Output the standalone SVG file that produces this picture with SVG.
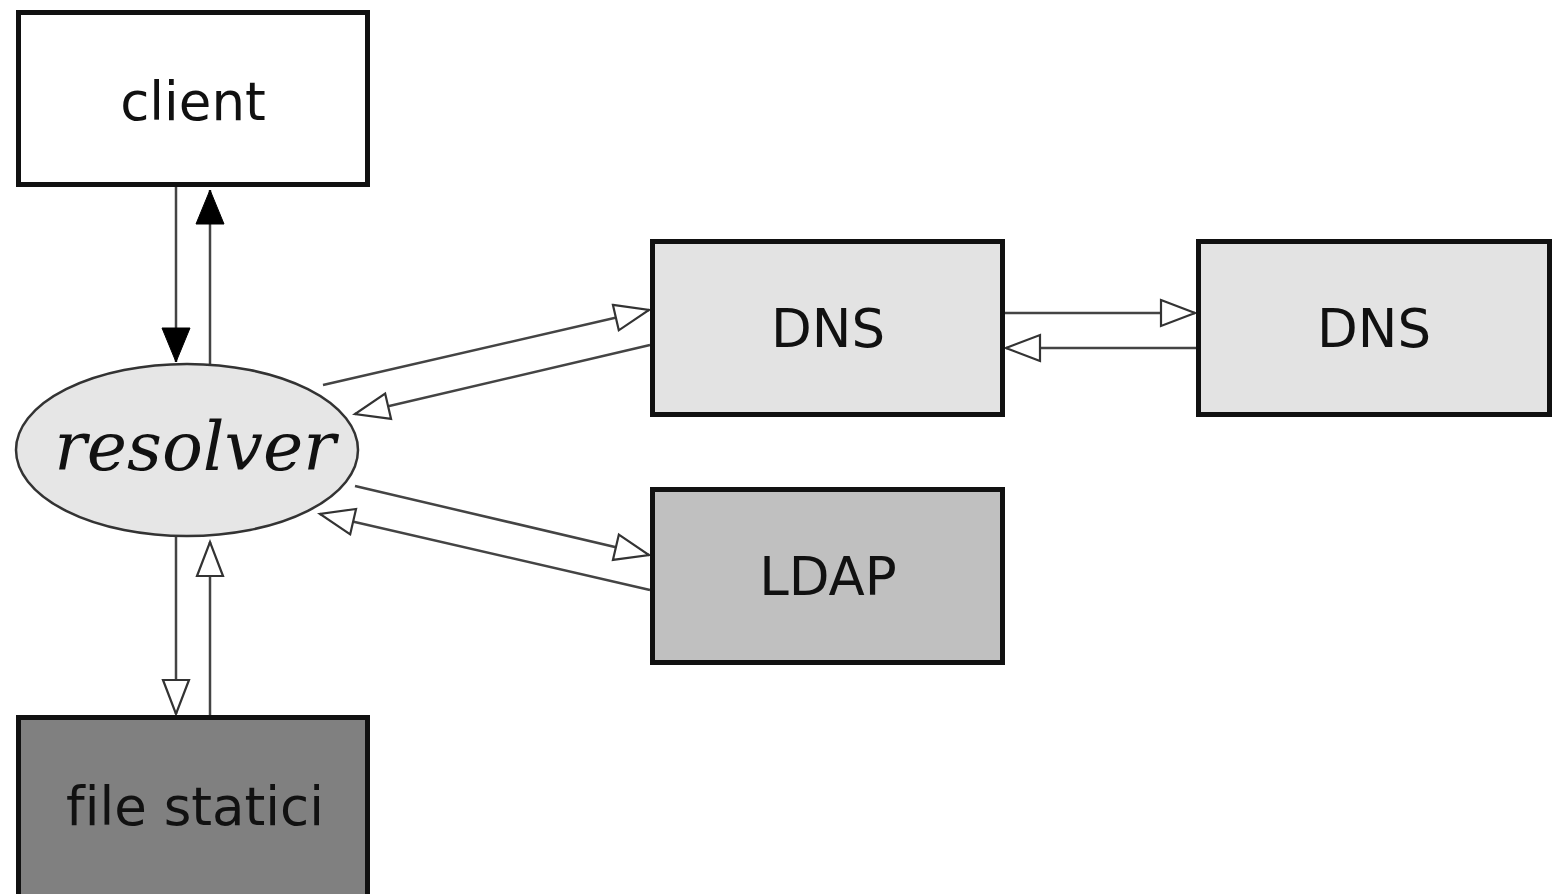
<svg xmlns="http://www.w3.org/2000/svg" width="1553" height="894" viewBox="0 0 1553 894">
<style>
.box{stroke:#111;stroke-width:5}
.lbl{font-family:"DejaVu Sans",sans-serif;font-size:53px;fill:#111;text-anchor:middle;font-variant-ligatures:none}
.edge{stroke:#444;stroke-width:2.5;fill:none}
</style>
<defs>
<marker id="solid" markerUnits="userSpaceOnUse" markerWidth="40" markerHeight="32" refX="36" refY="15" orient="auto" viewBox="0 0 40 32">
<path d="M2,1 L36,15 L2,29 z" fill="#000" stroke="#000" stroke-width="1"/>
</marker>
<marker id="hollow" markerUnits="userSpaceOnUse" markerWidth="40" markerHeight="32" refX="36" refY="15" orient="auto" viewBox="0 0 40 32">
<path d="M2,2 L36,15 L2,28 z" fill="#fff" stroke="#333" stroke-width="2.2"/>
</marker>
</defs>
<rect width="1553" height="894" fill="#fff"/>
<g id="connectors">
<line class="edge" x1="176" y1="187" x2="176" y2="362" marker-end="url(#solid)"/>
<line class="edge" x1="210" y1="365" x2="210" y2="190" marker-end="url(#solid)"/>
<line class="edge" x1="323" y1="385" x2="649" y2="310" marker-end="url(#hollow)"/>
<line class="edge" x1="650" y1="345" x2="355" y2="414" marker-end="url(#hollow)"/>
<line class="edge" x1="1005" y1="313" x2="1195" y2="313" marker-end="url(#hollow)"/>
<line class="edge" x1="1196" y1="348" x2="1006" y2="348" marker-end="url(#hollow)"/>
<line class="edge" x1="355" y1="486" x2="649" y2="555" marker-end="url(#hollow)"/>
<line class="edge" x1="650" y1="590" x2="320" y2="514" marker-end="url(#hollow)"/>
<line class="edge" x1="176" y1="537" x2="176" y2="714" marker-end="url(#hollow)"/>
<line class="edge" x1="210" y1="715" x2="210" y2="542" marker-end="url(#hollow)"/>
</g>
<g id="client">
<rect class="box" x="18.5" y="12.5" width="349" height="172" fill="#fff"/>
<text class="lbl" x="193" y="120">client</text>
</g>
<g id="resolver">
<ellipse cx="187" cy="450" rx="171" ry="86" fill="#e6e6e6" stroke="#333" stroke-width="2.5"/>
<text x="195" y="470" font-family="DejaVu Serif, serif" font-style="italic" font-size="68" fill="#111" text-anchor="middle">resolver</text>
</g>
<g id="dns1">
<rect class="box" x="652.5" y="241.5" width="350" height="173" fill="#e3e3e3"/>
<text class="lbl" x="828" y="347">DNS</text>
</g>
<g id="dns2">
<rect class="box" x="1198.5" y="241.5" width="351" height="173" fill="#e3e3e3"/>
<text class="lbl" x="1374" y="347">DNS</text>
</g>
<g id="ldap">
<rect class="box" x="652.5" y="489.5" width="350" height="173" fill="#c0c0c0"/>
<text class="lbl" x="828" y="595">LDAP</text>
</g>
<g id="file-statici">
<rect class="box" x="18.5" y="717.5" width="349" height="185" fill="#808080"/>
<text class="lbl" x="195" y="825">file statici</text>
</g>
</svg>
